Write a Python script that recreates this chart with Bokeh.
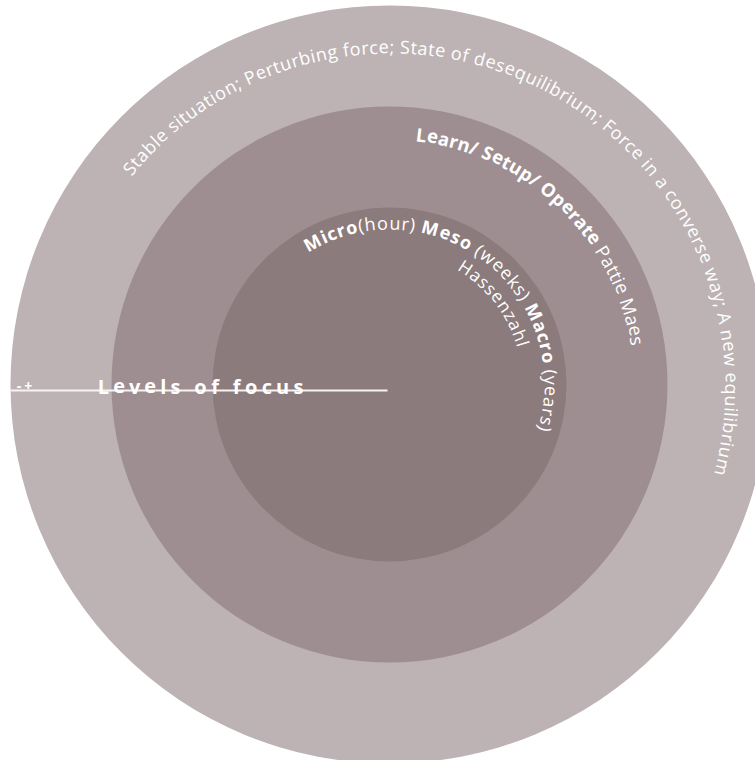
import math
from bokeh.plotting import figure
from bokeh.models import Range1d, ColumnDataSource
from bokeh.embed import file_html
from bokeh.resources import INLINE
from bokeh.core.properties import value

# ---------------- data ----------------
ring_names = ["Context", "Interaction", "Experience"]
outer_segments = [("Stable situation; Perturbing force; State of desequilibrium; "
                   "Force in a converse way; A new equilibrium", "normal")]
middle_segments = [("Learn/ Setup/ Operate", "bold"), (" Pattie Maes", "normal")]
inner_segments = [("Micro", "bold"), ("(hour) ", "normal"), ("Meso", "bold"),
                  (" (weeks) ", "normal"), ("Macro", "bold"), (" (years)", "normal")]
author_segments = [("Hassenzahl", "normal")]
axis_title = "Levels of focus"
axis_marker = "-+"

# ---------------- layout / style ----------------
FONT = "Open Sans"
CX, CY = 389.0, -384.0
ring_radius = [379, 278, 177]
ring_colors = ["#BDB3B4", "#9E8E91", "#8C7B7C"]

# approx advance widths (em) for Open Sans
W = {' ': .26, 'a': .556, 'b': .613, 'c': .476, 'd': .613, 'e': .561, 'f': .339, 'g': .548,
     'h': .614, 'i': .253, 'j': .253, 'k': .525, 'l': .253, 'm': .930, 'n': .614, 'o': .604,
     'p': .613, 'q': .613, 'r': .408, 's': .477, 't': .353, 'u': .614, 'v': .501, 'w': .778,
     'x': .524, 'y': .502, 'z': .477, 'A': .633, 'B': .648, 'C': .631, 'D': .729, 'E': .556,
     'F': .502, 'G': .728, 'H': .742, 'L': .516, 'M': .903, 'O': .781, 'P': .604, 'S': .549,
     'T': .553, ';': .266, '/': .370, '(': .295, ')': .295, '-': .322, '+': .560}
WB = {'i': .30, 'l': .30, 'r': .45, 't': .42, 'f': .40, '/': .40, 'M': .95, 'L': .58, 'O': .80,
      'S': .58, ' ': .26}


def adv(ch, style):
    if style == "bold":
        return WB.get(ch, W.get(ch, .55) * 1.06)
    return W.get(ch, .55)


def arc_layout(segments, cx, cy, r, a0, a1):
    chars = [(ch, st) for txt, st in segments for ch in txt]
    total = sum(adv(c, s) for c, s in chars)
    scale = math.radians(a0 - a1) / total
    cum = 0.0
    out = {"normal": dict(x=[], y=[], t=[], a=[]), "bold": dict(x=[], y=[], t=[], a=[])}
    for ch, st in chars:
        w = adv(ch, st)
        th = math.radians(a0) - (cum + w / 2) * scale
        cum += w
        if ch == ' ':
            continue
        d = out[st]
        d["x"].append(cx + r * math.cos(th))
        d["y"].append(cy + r * math.sin(th))
        d["t"].append(ch)
        d["a"].append(th - math.pi / 2)
    return out


def line_layout(text, x0, x1, y, style, size_px):
    # additive letter spacing so the text spans x0..x1
    widths = [adv(c, style) * size_px for c in text]
    track = ((x1 - x0) - sum(widths)) / max(len(text) - 1, 1)
    xpos = x0
    d = dict(x=[], y=[], t=[], a=[])
    for ch, w in zip(text, widths):
        xc = xpos + w / 2
        xpos += w + track
        if ch == ' ':
            continue
        d["x"].append(xc)
        d["y"].append(y)
        d["t"].append(ch)
        d["a"].append(0.0)
    return d


p = figure(width=755, height=760, x_range=Range1d(0, 755), y_range=Range1d(-760, 0),
           output_backend="svg", toolbar_location=None, min_border=0,
           outline_line_color=None, background_fill_color="white", border_fill_color="white")
p.axis.visible = False
p.grid.visible = False

# rings
p.circle(x=[CX] * 3, y=[CY] * 3, radius=ring_radius, fill_color=ring_colors,
         line_color=None)

# baseline line
p.line(x=[10, 387], y=[-390, -390], line_color="#F7F3F3", line_width=2)


def draw(d, size, style):
    if not d["x"]:
        return
    p.text(x="x", y="y", text="t", angle="a", source=ColumnDataSource(d),
           text_font=value(FONT), text_font_size=value(size), text_font_style=style,
           text_color="white", text_align="center", text_baseline="alphabetic")


for segs, cx, cy, r, a0, a1, size in [
        (outer_segments, 390.3, -387.5, 341.5, 140.9, -15.0, "18px"),
        (middle_segments, CX, CY, 252, 84, 9, "18.5px"),
        (inner_segments, CX, CY, 162, 122, -17, "18px"),
        (author_segments, CX, CY, 140, 60, 16, "17.5px")]:
    lay = arc_layout(segs, cx, cy, r, a0, a1)
    draw(lay["normal"], size, "normal")
    draw(lay["bold"], size, "bold")

draw(line_layout(axis_title, 97, 303, -385.5, "bold", 20), "20px", "bold")
draw(line_layout(axis_marker, 16, 32, -385, "bold", 14), "14px", "bold")

open("out.html", "w").write(file_html(p, INLINE))
